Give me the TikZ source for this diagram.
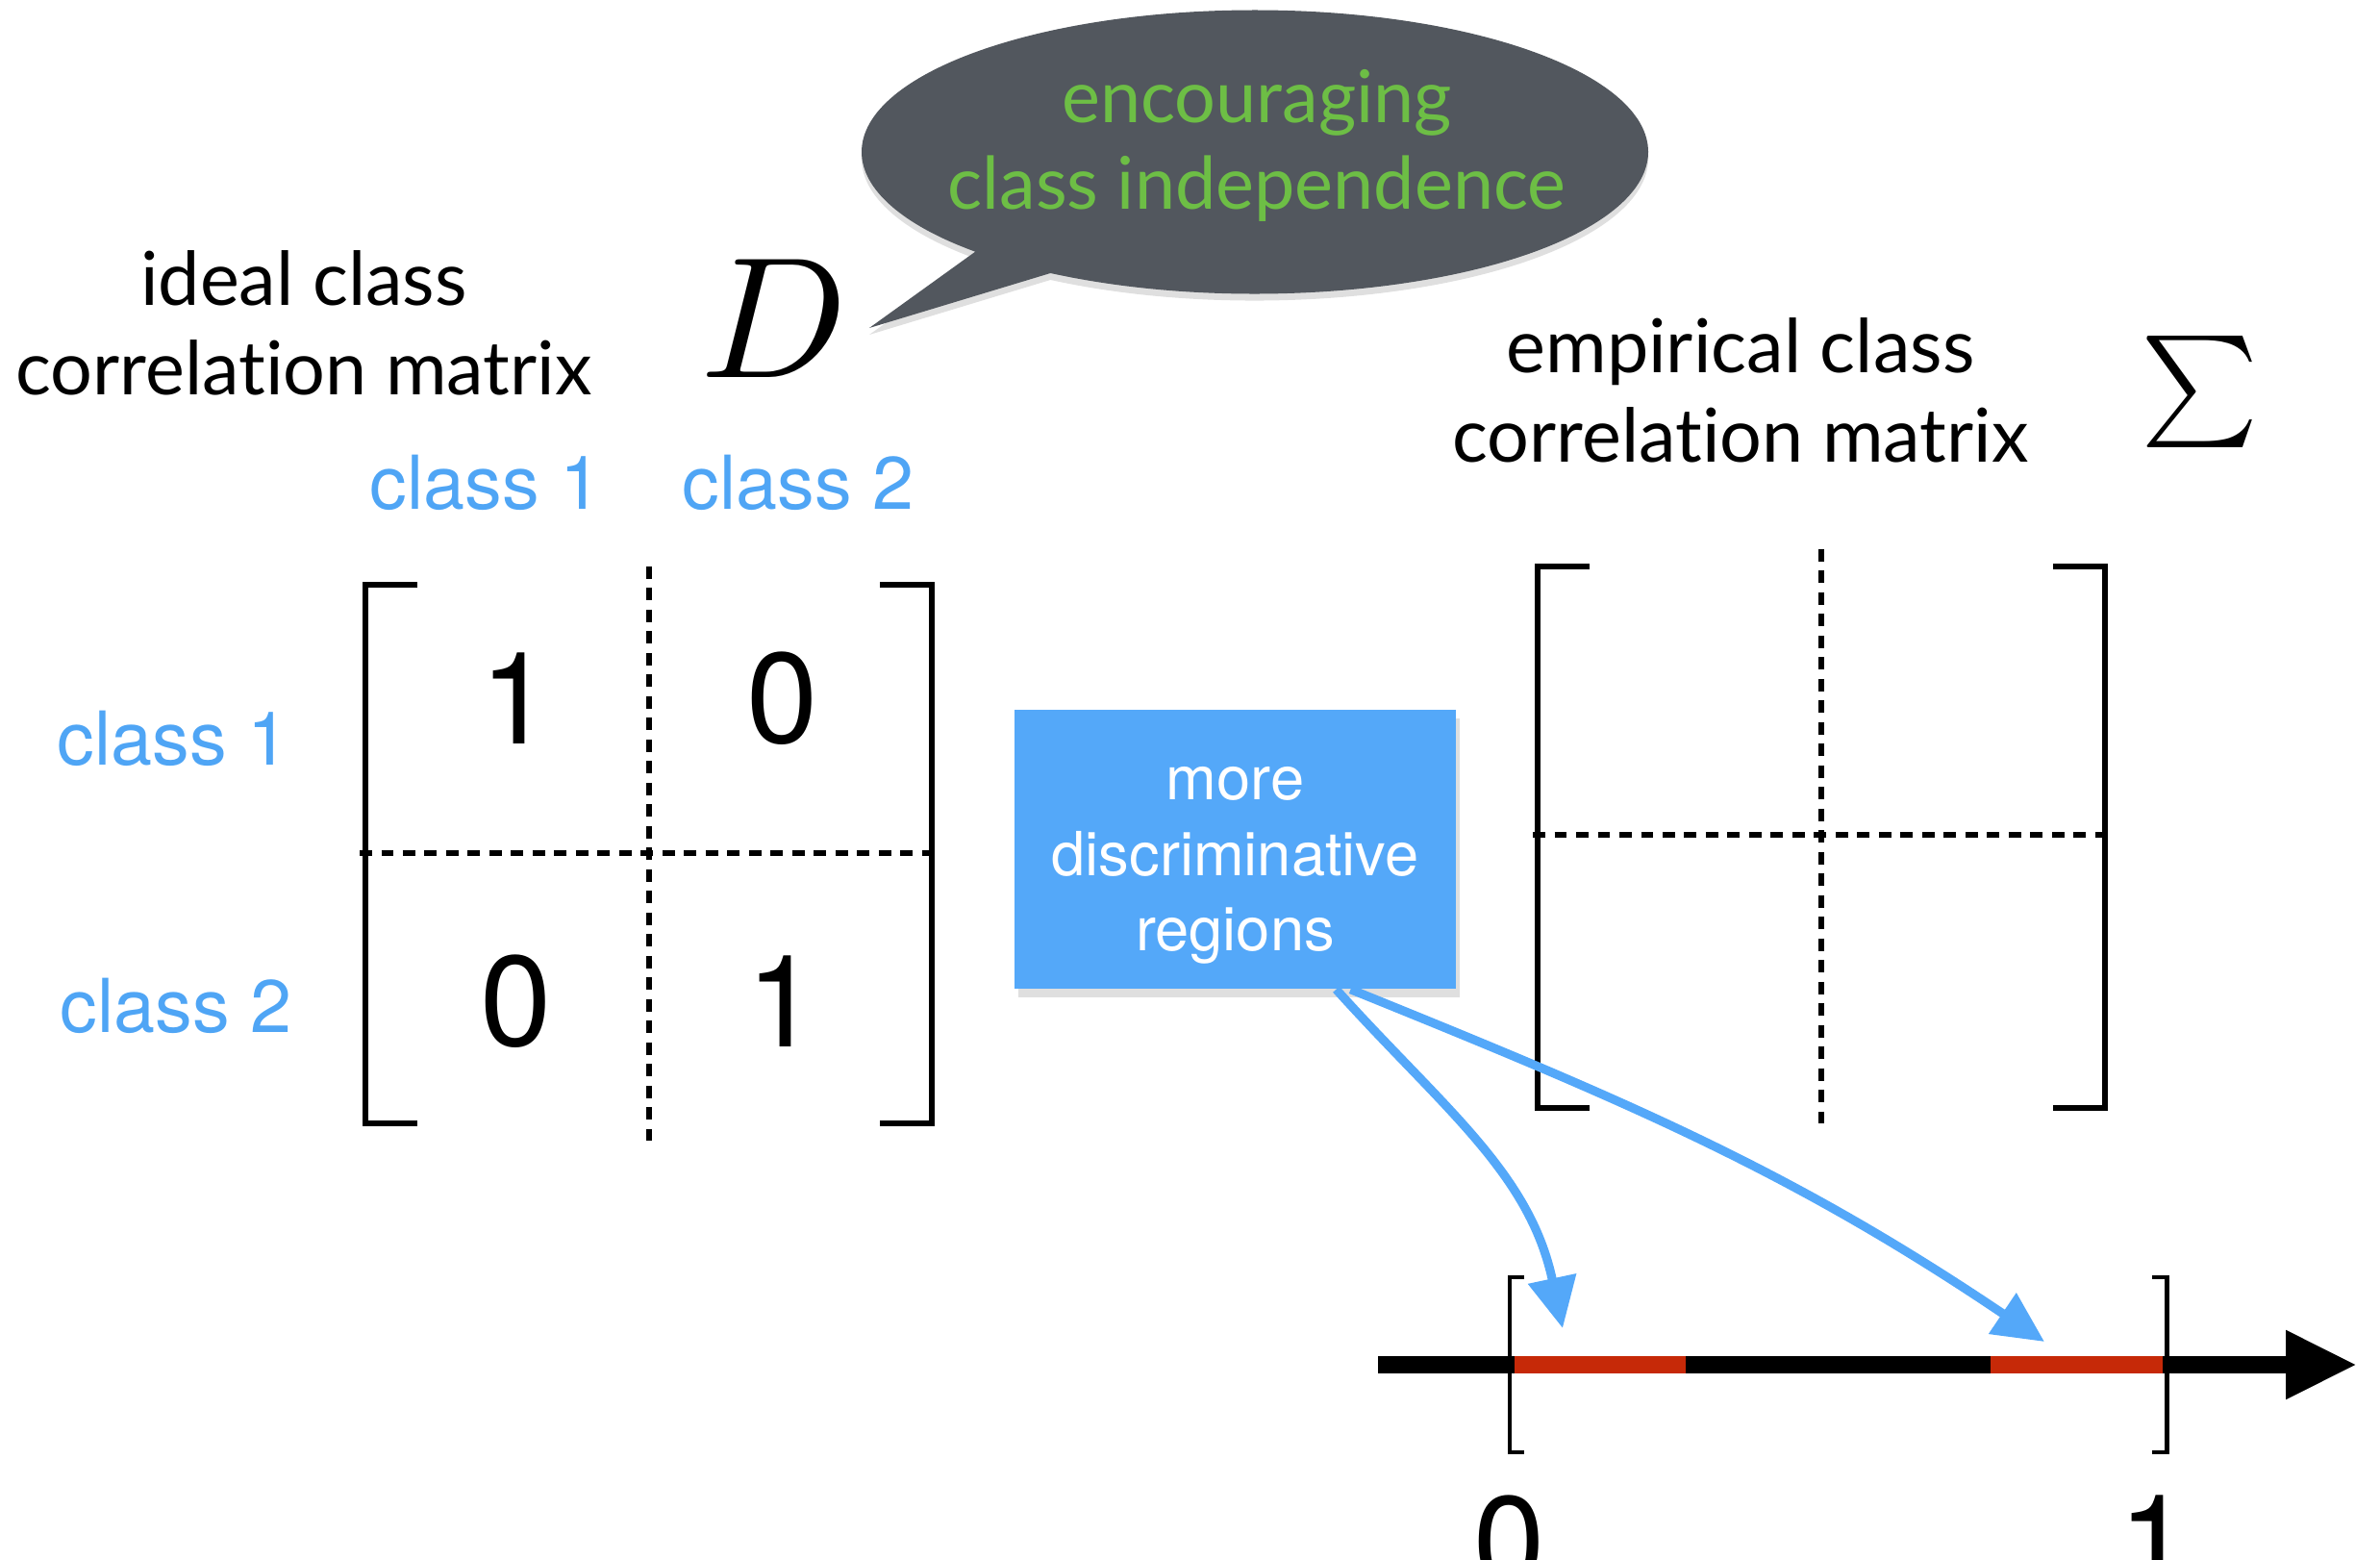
\documentclass[tikz,border=0pt]{standalone}
\usepackage{fontspec}
\usepackage{graphicx}
\usetikzlibrary{positioning,arrows.meta,shapes.callouts,shadows}
\newfontfamily\gillfont[Ligatures=NoCommon]{Lato}
\newfontfamily\helvfont{TeX Gyre Heros}
\definecolor{bubblegray}{HTML}{52575E}
\definecolor{bubblegreen}{HTML}{6DBE45}
\definecolor{classblue}{HTML}{4FA5F5}
\definecolor{boxblue}{HTML}{54A8F9}
\definecolor{segred}{HTML}{C62908}

\begin{document}
\begin{tikzpicture}[
  title/.style={align=center, font=\gillfont\fontsize{22}{26.5}\selectfont},
  cls/.style={text=classblue, font=\helvfont\fontsize{22}{26}\selectfont},
  entry/.style={font=\helvfont\fontsize{38}{40}\selectfont},
  brk/.style={line width=1.5pt},
  sep/.style={line width=1.6pt, dash pattern=on 3.6pt off 2.8pt},
  arr/.style={-{Triangle[length=15pt,width=14pt]}, line width=2.6pt, boxblue},
  tick/.style={line width=1.4pt},
  num/.style={font=\helvfont\fontsize{38}{40}\selectfont, anchor=north, inner sep=0pt},
]
\useasboundingbox (0,0) rectangle (24.75,16.21);

% ---- Speech bubble ----
\coordinate (tip) at (9.04,12.80);
\node[ellipse callout, fill=bubblegray, minimum width=8.18cm, minimum height=2.95cm,
      callout absolute pointer=(tip), callout pointer arc=14,
      drop shadow={shadow xshift=0pt, shadow yshift=-2pt, opacity=0.25}]
  (bubble) at (13.05,14.63) {};
\node[align=center, text=bubblegreen, font=\gillfont\fontsize{21.5}{25.6}\selectfont]
  (bubbletxt) at (13.07,14.70) {encouraging\\class independence};

% ---- Titles ----
\node[title] (ideal) at (3.16,12.85) {ideal class\\correlation matrix};
\node (D) at (8.05,12.90) {\scalebox{5.1}{$D$}};
\node[title] (empir) at (18.10,12.15) {empirical class\\correlation matrix};
\node (Sigma) at (22.88,12.14) {\scalebox{3.3}{$\sum$}};

% ---- Class labels ----
\node[cls] (col1) at (5.05,11.19) {class 1};
\node[cls] (col2) at (8.30,11.19) {class 2};
\node[cls] (row1) at (1.80,8.53) {class 1};
\node[cls] (row2) at (1.83,5.75) {class 2};

% ---- Ideal matrix D ----
\draw[brk] (4.34,10.13) -- (3.80,10.13) -- (3.80,4.53) -- (4.34,4.53);
\draw[brk] (9.15,10.13) -- (9.69,10.13) -- (9.69,4.53) -- (9.15,4.53);
\draw[sep] (6.75,10.32) -- (6.75,4.34);
\draw[sep] (3.74,7.34) -- (9.75,7.34);
\node[entry] (d11) at (5.37,8.95) {1};
\node[entry] (d12) at (8.14,8.95) {0};
\node[entry] (d21) at (5.37,5.80) {0};
\node[entry] (d22) at (8.14,5.80) {1};

% ---- Empirical matrix Sigma ----
\draw[brk] (16.53,10.32) -- (15.99,10.32) -- (15.99,4.69) -- (16.53,4.69);
\draw[brk] (21.35,10.32) -- (21.89,10.32) -- (21.89,4.69) -- (21.35,4.69);
\draw[sep] (18.94,10.50) -- (18.94,4.50);
\draw[sep] (15.94,7.53) -- (21.93,7.53);

% ---- Discriminative regions ----
\node[fill=boxblue, minimum width=4.59cm, minimum height=2.9cm,
      drop shadow={shadow xshift=1pt, shadow yshift=-2.5pt, opacity=0.25}]
  (box) at (12.845,7.38) {};
\node[align=center, text=white, font=\helvfont\fontsize{18}{22.4}\selectfont]
  (boxtxt) at ([yshift=-0.17cm]box.center) {more\\discriminative\\regions};

% ---- Number line ----
\coordinate (ax0) at (14.33,2.02);
\coordinate (ax1) at (24.51,2.02);
\coordinate (lo) at (15.70,2.02);
\coordinate (hi) at (22.53,2.02);
\draw[line width=5pt, -{Triangle[length=21pt,width=19pt]}] (ax0) -- (ax1);
\draw[line width=5pt, segred] (15.75,2.02) -- (17.53,2.02);
\draw[line width=5pt, segred] (20.70,2.02) -- (22.49,2.02);
\draw[tick] ([xshift=1.5mm,yshift=9.1mm]lo) -- ([yshift=9.1mm]lo) -- ([yshift=-9.1mm]lo) -- ([xshift=1.5mm,yshift=-9.1mm]lo);
\draw[tick] ([xshift=-1.5mm,yshift=9.1mm]hi) -- ([yshift=9.1mm]hi) -- ([yshift=-9.1mm]hi) -- ([xshift=-1.5mm,yshift=-9.1mm]hi);
\node[num] (zero) at (15.70,0.67) {0};
\node[num] (one) at (22.41,0.67) {1};

\draw[arr] ([xshift=1.05cm]box.south) to[out=-48, in=102] (16.25,2.40);
\draw[arr] ([xshift=1.2cm]box.south) to[out=-22, in=146] (21.26,2.26);

\end{tikzpicture}
\end{document}
